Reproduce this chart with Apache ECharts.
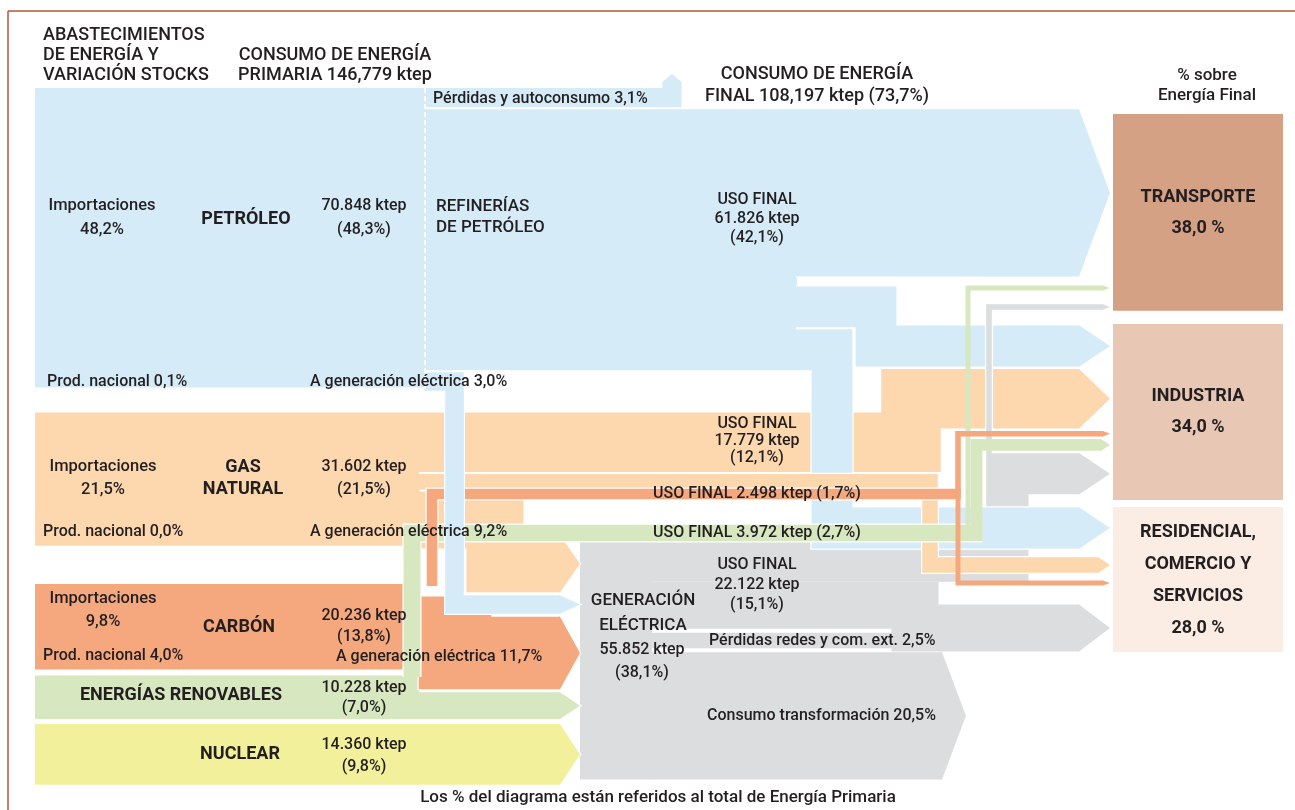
<!DOCTYPE html>
<html>
<head>
<meta charset="utf-8">
<script src="https://cdn.jsdelivr.net/npm/echarts@6/dist/echarts.min.js"></script>
<style>
  html, body { margin: 0; padding: 0; background: #fff; }
  #chart { width: 1295px; height: 810px; }
</style>
</head>
<body>
<div id="chart"></div>
<script>
// ---- datos: % sobre el total de energía primaria ----
const fuentes = ['PETRÓLEO', 'GAS\nNATURAL', 'CARBÓN', 'ENERGÍAS RENOVABLES', 'NUCLEAR'];
const ktepPrimaria = ['70.848', '31.602', '20.236', '10.228', '14.360'];
const pctPrimaria = [48.3, 21.5, 13.8, 7.0, 9.8];
const pctImportaciones = [48.2, 21.5, 9.8];
const pctProdNacional = [0.1, 0.0, 4.0];
const pctAGeneracion = [3.0, 9.2, 11.7, 4.3, 9.8];
const pctUsoFinal = [42.1, 12.1, 1.7, 2.7];
const ktepUsoFinal = ['61.826', '17.779', '2.498', '3.972'];
const pctPerdidasRefino = 3.1;

const ktepGeneracion = '55.852';
const pctGeneracion = 38.1;
const pctUsoFinalElec = 15.1;
const ktepUsoFinalElec = '22.122';
const pctPerdidasRedes = 2.5;
const pctConsumoTransf = 20.5;

const ktepPrimariaTotal = '146,779';
const ktepFinalTotal = '108,197';
const pctFinalTotal = 73.7;

const sectores = ['TRANSPORTE', 'INDUSTRIA', 'RESIDENCIAL,\nCOMERCIO Y\nSERVICIOS'];
const pctSectores = [38.0, 34.0, 28.0];

const petroleoASector = [27.0, 6.6, 6.6];
const gasASector = [0, 9.6, 2.5];
const carbonASector = [0, 0.9, 0.8];
const renovASector = [0.8, 1.9, 0];
const electASector = [0.9, 6.6, 7.6];

// ---- estilo y maquetación ----
const colFuente = ['#d5ebf8', '#fdd7ae', '#f5a77e', '#d7e7bf', '#f2f09b'];
const colElec = '#dcdddf';
const colSector = ['#d4a185', '#e8c8b4', '#fbece4'];
const colTexto = '#231f20';
const FONT = "Roboto, 'Liberation Sans', sans-serif";

const K = 6.2;      // px por punto porcentual
const KB = 5.18;    // px por % en las cajas de sectores
const GAP = 2;
const X0 = 35, XSRC = 420, XREF = 425, XREF_END = 797;
const X_GEN = 580, X_GEN_OUT = 652, X_GEN_IN = 560;
const TIP = 1110;
const BOX_X = 1113, BOX_W = 170;
const srcTop = [88, 412.5, 584, 675.6, 724];
const boxTop = [114, 324, 507];

const fmt = v => v.toFixed(1).replace('.', ',') + '%';
const hd = w => Math.min(31, Math.max(7, 0.75 * w));
const xEnd = v => TIP - hd(v * K);

const shapes = [];
function addRect(x0, x1, y0, y1, color, v) {
  shapes.push({ kind: 'rect', x0, x1, y0, y1, color, v });
}
function addFlow(pts, v, color, head, border) {
  shapes.push({ kind: 'flow', pts, v, color, head: head || 0, border: border !== false });
}

// nodos de origen
pctPrimaria.forEach((v, i) =>
  addRect(X0, i === 0 ? XREF : XSRC, srcTop[i], srcTop[i] + v * K, colFuente[i], v));

// refinerías
const yPerd = srcTop[0] + pctPerdidasRefino * K / 2;
const refTop = srcTop[0] + pctPerdidasRefino * K + GAP;
const refBot = refTop + pctUsoFinal[0] * K;
addRect(XREF, XREF_END, refTop, refBot, colFuente[0], pctUsoFinal[0]);

// entradas a generación eléctrica (apiladas desde abajo)
const wGen = pctAGeneracion.map(v => v * K);
const cIn = [];
cIn[4] = srcTop[4] + wGen[4] / 2;
cIn[3] = srcTop[3] + pctPrimaria[3] * K - wGen[3] / 2;
cIn[2] = cIn[3] - wGen[3] / 2 - 3 - wGen[2] / 2;
cIn[0] = cIn[2] - wGen[2] / 2 - 3 - wGen[0] / 2;
cIn[1] = cIn[0] - wGen[0] / 2 - 3 - wGen[1] / 2;
const genTop = cIn[1] - wGen[1] / 2;

// salidas de generación
const wUF = pctUsoFinalElec * K, wPR = pctPerdidasRedes * K, wCT = pctConsumoTransf * K;
const cPR = genTop + wUF + 4 + wPR / 2;
const cCT = cPR + wPR / 2 + 4 + wCT / 2;
const genBot = cCT + wCT / 2;
addRect(X_GEN, X_GEN_OUT, genTop, genBot, colElec, pctGeneracion);

// cajas de sectores
pctSectores.forEach((v, i) =>
  addRect(BOX_X, BOX_X + BOX_W, boxTop[i], boxTop[i] + v * KB, colSector[i], v));

// llegadas a industria (apiladas)
const indC = [];
let yi = boxTop[1] + 1.5;
[petroleoASector[1], gasASector[1], carbonASector[1], renovASector[1], electASector[1]].forEach(v => {
  indC.push(yi + v * K / 2);
  yi += v * K + 2.5;
});
const resC = [528, 565, 583, 628];
const trC = [288, 307];

// petróleo
const petW = petroleoASector.map(v => v * K);
const petGap = (refBot - refTop) - petW[0] - petW[1] - petW[2] - GAP;
const petC = [refTop + petW[0] / 2];
petC[1] = refTop + petW[0] + petGap + petW[1] / 2;
petC[2] = petC[1] + petW[1] / 2 + GAP + petW[2] / 2;
addFlow([[XREF_END - 1, petC[0]], [xEnd(petroleoASector[0]), petC[0]]],
  petroleoASector[0], colFuente[0], hd(petW[0]));
addFlow([[XREF_END - 1, petC[1]], [876, petC[1]], [876, indC[0]], [xEnd(petroleoASector[1]), indC[0]]],
  petroleoASector[1], colFuente[0], hd(petW[1]));
addFlow([[XREF - 1, yPerd], [672, yPerd], [672, 82]], pctPerdidasRefino, colFuente[0], 8);

// gas a industria
const gasC0 = srcTop[1] + gasASector[1] * K / 2;
const gasC1 = srcTop[1] + gasASector[1] * K + GAP + gasASector[2] * K / 2;
const gasC2 = srcTop[1] + (gasASector[1] + gasASector[2]) * K + 2 * GAP + wGen[1] / 2;
addFlow([[XSRC - 1, gasC0], [911, gasC0], [911, indC[1]], [xEnd(gasASector[1]), indC[1]]],
  gasASector[1], colFuente[1], hd(gasASector[1] * K));

// electricidad
addFlow([[X_GEN_OUT - 1, cCT], [942, cCT]], pctConsumoTransf, colElec, 24, false);
addFlow([[X_GEN_OUT - 1, cPR], [957, cPR]], pctPerdidasRedes, colElec, 9, false);
const eW = electASector.map(v => v * K);
const eC0 = genTop + eW[0] / 2 + 0.4;
const eC1 = genTop + eW[0] + eW[1] / 2;
const eC2 = genTop + eW[0] + eW[1] + eW[2] / 2;
addFlow([[X_GEN_OUT - 1, eC0], [989, eC0], [989, trC[1]], [xEnd(electASector[0]), trC[1]]],
  electASector[0], colElec, hd(eW[0]));
addFlow([[X_GEN_OUT - 1, eC1], [1008, eC1], [1008, indC[4]], [xEnd(electASector[1]), indC[4]]],
  electASector[1], colElec, hd(eW[1]), false);
addFlow([[X_GEN_OUT - 1, eC2], [915, eC2], [915, resC[3]], [xEnd(electASector[2]), resC[3]]],
  electASector[2], colElec, hd(eW[2]), false);

// petróleo a residencial
addFlow([[XREF_END - 1, petC[2]], [832, petC[2]], [832, resC[0]], [xEnd(petroleoASector[2]), resC[0]]],
  petroleoASector[2], colFuente[0], hd(petW[2]));

// gas a residencial y a generación
addFlow([[XSRC - 1, gasC1], [930, gasC1], [930, resC[1]], [xEnd(gasASector[2]), resC[1]]],
  gasASector[2], colFuente[1], hd(gasASector[2] * K));
addFlow([[XSRC - 1, gasC2], [495, gasC2], [495, cIn[1]], [X_GEN_IN, cIn[1]]],
  pctAGeneracion[1], colFuente[1], 20);

// carbón a generación
const carTopW = pctUsoFinal[2] * K;
const carC = srcTop[2] + carTopW + GAP + wGen[2] / 2;
addFlow([[XSRC - 1, carC], [455, carC], [455, cIn[2]], [X_GEN_IN, cIn[2]]],
  pctAGeneracion[2], colFuente[2], 20);

// renovables y nuclear a generación
addFlow([[XSRC - 1, cIn[3]], [X_GEN_IN, cIn[3]]], pctAGeneracion[3], colFuente[3], 20);
addFlow([[XSRC - 1, cIn[4]], [X_GEN_IN, cIn[4]]], pctAGeneracion[4], colFuente[4], 20);

// renovables uso final
const renW = renovASector.map(v => v * K);
addFlow([[412, srcTop[3] + 1.5], [412, 533], [976.5 + renW[1] / 2, 533]], pctUsoFinal[3], colFuente[3], 0);
addFlow([[965, 533], [968, 533], [968, trC[0]], [xEnd(renovASector[0]), trC[0]]],
  renovASector[0], colFuente[3], hd(renW[0]), false);
addFlow([[960, 533], [976.5, 533], [976.5, indC[3]], [xEnd(renovASector[1]), indC[3]]],
  renovASector[1], colFuente[3], hd(renW[1]), false);

// carbón uso final
const carW = carbonASector.map(v => v * K);
addFlow([[432, srcTop[2] + 2], [432, 494], [958 + carW[1] / 2, 494]], pctUsoFinal[2], colFuente[2], 0);
addFlow([[958, 494], [958, indC[2]], [xEnd(carbonASector[1]), indC[2]]],
  carbonASector[1], colFuente[2], hd(carW[1]), false);
addFlow([[958, 494], [958, resC[2]], [xEnd(carbonASector[2]), resC[2]]],
  carbonASector[2], colFuente[2], hd(carW[2]), false);

// petróleo a generación
const petGenC = refBot + GAP + wGen[0] / 2;
addFlow([[XREF - 1, petGenC], [454.5, petGenC], [454.5, cIn[0]], [X_GEN_IN, cIn[0]]],
  pctAGeneracion[0], colFuente[0], 20);

function renderItem(params, api) {
  const s = shapes[params.dataIndex];
  if (s.kind === 'rect') {
    const a = api.coord([s.x0, s.y0]);
    const b = api.coord([s.x1, s.y1]);
    return {
      type: 'rect',
      shape: { x: a[0], y: a[1], width: b[0] - a[0], height: b[1] - a[1] },
      style: { fill: s.color }
    };
  }
  const w = api.size([0, api.value(1) * K])[1];
  const pts = s.pts.map(p => api.coord(p));
  const n = pts.length;
  const e = pts[n - 1], p = pts[n - 2];
  const len = Math.hypot(e[0] - p[0], e[1] - p[1]) || 1;
  const d = [(e[0] - p[0]) / len, (e[1] - p[1]) / len];
  const nr = [-d[1], d[0]];
  let head = null;
  if (s.head) {
    const h = w / 2;
    head = [
      [e[0] - d[0] + nr[0] * h, e[1] - d[1] + nr[1] * h],
      [e[0] + nr[0] * h, e[1] + nr[1] * h],
      [e[0] + d[0] * s.head, e[1] + d[1] * s.head],
      [e[0] - nr[0] * h, e[1] - nr[1] * h],
      [e[0] - d[0] - nr[0] * h, e[1] - d[1] - nr[1] * h]
    ];
  }
  const line = (stroke, lw) => ({
    type: 'polyline',
    shape: { points: pts },
    style: { stroke, lineWidth: lw, fill: 'none', lineJoin: 'miter', lineCap: 'butt', miterLimit: 10 }
  });
  const children = [];
  if (s.border) {
    children.push(line('#ffffff', w + 2.4));
    if (head) children.push({ type: 'polygon', shape: { points: head }, style: { fill: '#ffffff', stroke: '#ffffff', lineWidth: 2.4, lineJoin: 'miter' } });
  }
  children.push(line(s.color, w));
  if (head) children.push({ type: 'polygon', shape: { points: head }, style: { fill: s.color } });
  return { type: 'group', children };
}

// ---- textos ----
function T(text, x, y, o) {
  o = o || {};
  const font = (o.bold ? 'bold ' : '500 ') + (o.size || 16) + 'px ' + FONT;
  const align = o.align || 'center';
  return {
    type: 'text', z: 100, silent: true,
    style: {
      text, x, y, fill: colTexto, font,
      textAlign: align, textVerticalAlign: 'middle',
      align, verticalAlign: 'middle',
      lineHeight: o.lh || 20
    }
  };
}

const yUF = genTop + wUF / 2 + 3;
const textos = [
  T('ABASTECIMIENTOS\nDE ENERGÍA Y\nVARIACIÓN STOCKS', 43, 55, { size: 18, align: 'left', lh: 20 }),
  T('CONSUMO DE ENERGÍA\nPRIMARIA ' + ktepPrimariaTotal + ' ktep', 335, 65, { size: 18, lh: 20 }),
  T('CONSUMO DE ENERGÍA\nFINAL ' + ktepFinalTotal + ' ktep (' + fmt(pctFinalTotal) + ')', 817, 85, { size: 18, lh: 22 }),
  T('% sobre\nEnergía Final', 1207, 86, { size: 17, lh: 20 }),

  T('Importaciones\n' + fmt(pctImportaciones[0]), 102, 218, { lh: 24, size: 16.5 }),
  T('Importaciones\n' + fmt(pctImportaciones[1]), 103, 478.5, { lh: 23, size: 16.5 }),
  T('Importaciones\n' + fmt(pctImportaciones[2]), 103, 610.5, { lh: 23, size: 16.5 }),
  T('Prod. nacional ' + fmt(pctProdNacional[0]), 47, petGenC, { align: 'left' }),
  T('Prod. nacional ' + fmt(pctProdNacional[1]), 43, 532, { align: 'left' }),
  T('Prod. nacional ' + fmt(pctProdNacional[2]), 43, 656, { align: 'left' }),

  T(fuentes[0], 246, 219, { bold: true, size: 18 }),
  T(fuentes[1], 243, 478, { bold: true, size: 18, lh: 22 }),
  T(fuentes[2], 239, 627, { bold: true, size: 18 }),
  T(fuentes[3], 181, 695, { bold: true, size: 18 }),
  T(fuentes[4], 240, cIn[4], { bold: true, size: 18 }),

  T(ktepPrimaria[0] + ' ktep\n(' + fmt(pctPrimaria[0]) + ')', 364, 218, { lh: 24 }),
  T(ktepPrimaria[1] + ' ktep\n(' + fmt(pctPrimaria[1]) + ')', 364, 478.5, { lh: 23 }),
  T(ktepPrimaria[2] + ' ktep\n(' + fmt(pctPrimaria[2]) + ')', 364, 626.5, { lh: 21 }),
  T(ktepPrimaria[3] + ' ktep\n(' + fmt(pctPrimaria[3]) + ')', 364, 698, { lh: 20 }),
  T(ktepPrimaria[4] + ' ktep\n(' + fmt(pctPrimaria[4]) + ')', 364, cIn[4] + 2, { lh: 22 }),

  T('A generación eléctrica ' + fmt(pctAGeneracion[0]), 310, petGenC, { align: 'left' }),
  T('A generación eléctrica ' + fmt(pctAGeneracion[1]), 310, 532, { align: 'left' }),
  T('A generación eléctrica ' + fmt(pctAGeneracion[2]), 336, 657, { align: 'left' }),

  T('Pérdidas y autoconsumo ' + fmt(pctPerdidasRefino), 433, yPerd + 1, { align: 'left' }),
  T('REFINERÍAS\nDE PETRÓLEO', 436, 217, { align: 'left', size: 17, lh: 21 }),
  T('USO FINAL\n' + ktepUsoFinal[0] + ' ktep\n(' + fmt(pctUsoFinal[0]) + ')', 757, 219, { lh: 19 }),
  T('USO FINAL\n' + ktepUsoFinal[1] + ' ktep\n(' + fmt(pctUsoFinal[1]) + ')', 757, 441, { lh: 17 }),
  T('USO FINAL ' + ktepUsoFinal[2] + ' ktep (' + fmt(pctUsoFinal[2]) + ')', 757, 494),
  T('USO FINAL ' + ktepUsoFinal[3] + ' ktep (' + fmt(pctUsoFinal[3]) + ')', 757, 533),

  T('GENERACIÓN\nELÉCTRICA', 643, genTop + 78, { size: 17, lh: 25 }),
  T(ktepGeneracion + ' ktep\n(' + fmt(pctGeneracion) + ')', 642, genTop + 126, { lh: 23 }),
  T('USO FINAL\n' + ktepUsoFinalElec + ' ktep\n(' + fmt(pctUsoFinalElec) + ')', 757, yUF, { lh: 20 }),
  T('Pérdidas redes y com. ext. ' + fmt(pctPerdidasRedes), 709, cPR, { align: 'left' }),
  T('Consumo transformación ' + fmt(pctConsumoTransf), 707, cCT, { align: 'left' }),

  T(sectores[0] + '\n' + pctSectores[0].toFixed(1).replace('.', ',') + ' %', 1198, 212.5, { bold: true, size: 18, lh: 31 }),
  T(sectores[1] + '\n' + pctSectores[1].toFixed(1).replace('.', ',') + ' %', 1198, 411.5, { bold: true, size: 18, lh: 31 }),
  T(sectores[2] + '\n' + pctSectores[2].toFixed(1).replace('.', ',') + ' %', 1198, 580.5, { bold: true, size: 18, lh: 32 }),

  T('Los % del diagrama están referidos al total de Energía Primaria', 658, 798, { size: 17 })
];

const chart = echarts.init(document.getElementById('chart'));
chart.setOption({
  animation: false,
  grid: { left: 0, right: 0, top: 0, bottom: 0 },
  xAxis: { type: 'value', min: 0, max: 1295, show: false },
  yAxis: { type: 'value', min: 0, max: 810, inverse: true, show: false },
  series: [{
    type: 'custom',
    coordinateSystem: 'cartesian2d',
    silent: true,
    clip: false,
    data: shapes.map((s, i) => [i, s.v]),
    renderItem
  }],
  graphic: [
    { type: 'line', z: 50, silent: true, shape: { x1: XREF, y1: srcTop[0], x2: XREF, y2: petGenC + 8 },
      style: { stroke: '#ffffff', lineWidth: 2, lineDash: [5, 3] } },
    { type: 'line', z: 100, silent: true, shape: { x1: 8, y1: 11, x2: 1295, y2: 11 },
      style: { stroke: '#b3573d', lineWidth: 1.5 } },
    { type: 'line', z: 100, silent: true, shape: { x1: 8, y1: 11, x2: 8, y2: 810 },
      style: { stroke: '#b3573d', lineWidth: 1.5 } }
  ].concat(textos)
});
</script>
</body>
</html>
